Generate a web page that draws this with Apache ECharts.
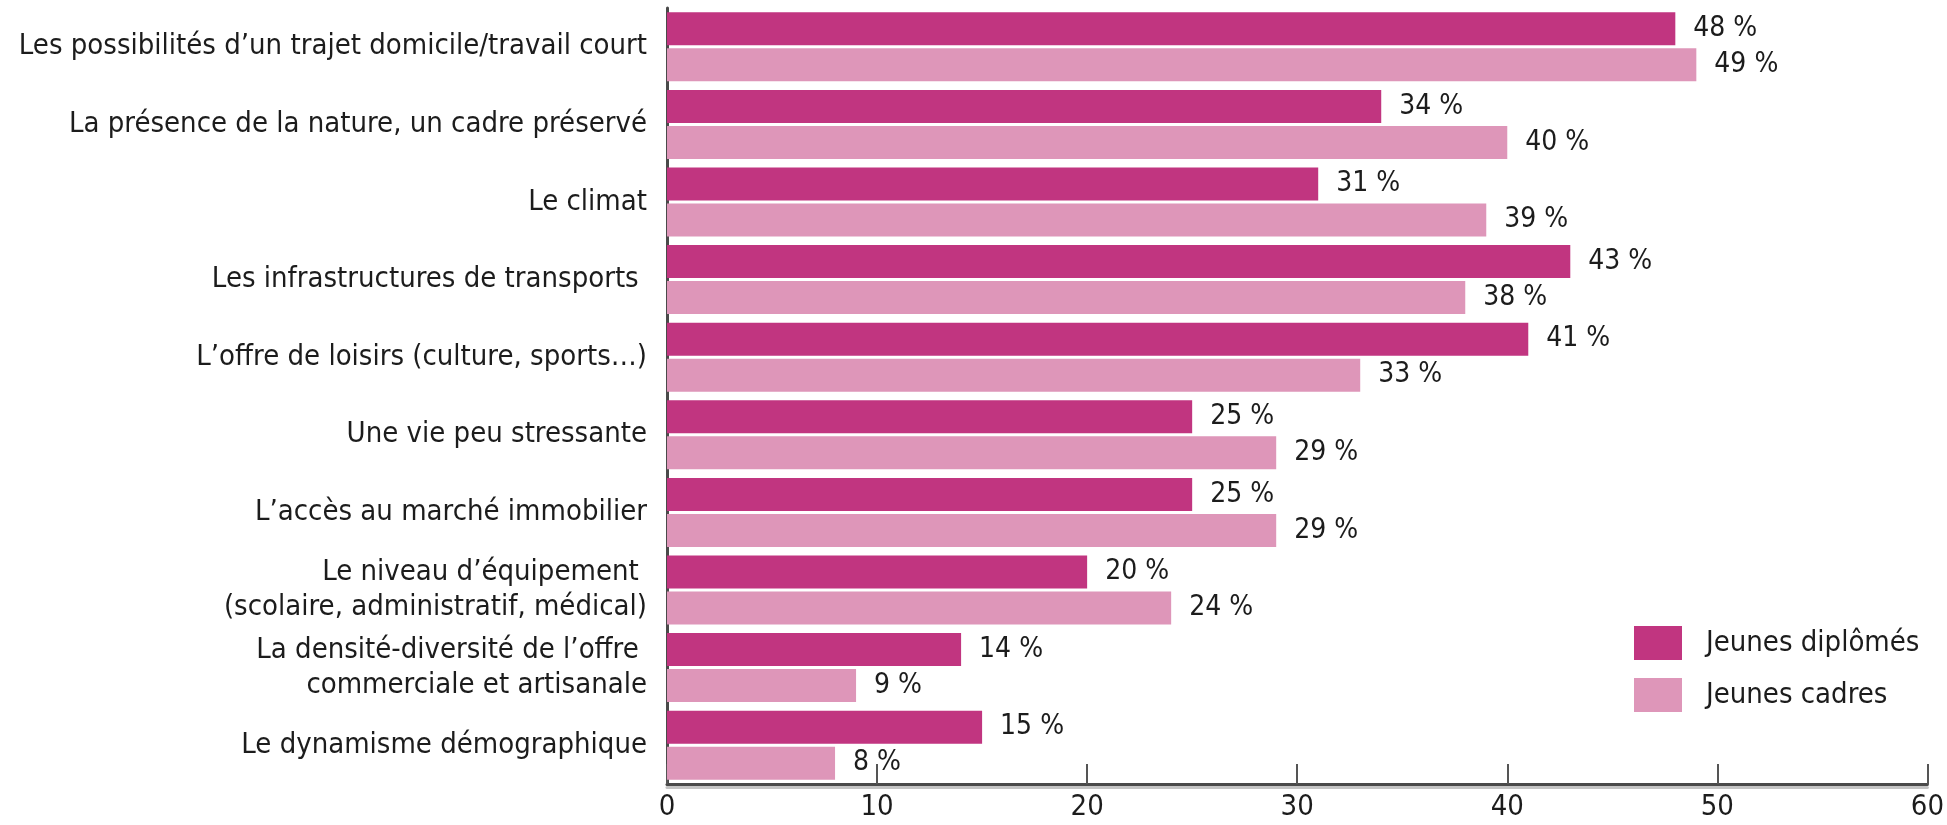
<!DOCTYPE html>
<html>
<head>
<meta charset="utf-8">
<script src="https://cdn.jsdelivr.net/npm/echarts@6/dist/echarts.min.js"></script>
<style>
html,body{margin:0;padding:0;background:#fff;}
#chart{width:1947px;height:825px;}
</style>
</head>
<body>
<div id="chart"></div>
<script>
const categories = [
  "Les possibilités d’un trajet domicile/travail court",
  "La présence de la nature, un cadre préservé",
  "Le climat",
  "Les infrastructures de transports ",
  "L’offre de loisirs (culture, sports…)",
  "Une vie peu stressante",
  "L’accès au marché immobilier",
  "Le niveau d’équipement \n(scolaire, administratif, médical)",
  "La densité-diversité de l’offre \ncommerciale et artisanale",
  "Le dynamisme démographique"
];
const seriesNames = ["Jeunes diplômés", "Jeunes cadres"];
const jeunesDiplomes = [48, 34, 31, 43, 41, 25, 25, 20, 14, 15];
const jeunesCadres = [49, 40, 39, 38, 33, 29, 29, 24, 9, 8];
const xTicks = [0, 10, 20, 30, 40, 50, 60];

const FONT = "'Liberation Sans Narrow', 'DejaVu Sans Condensed', 'Liberation Sans', sans-serif";
const TXT = '#1c1c1c';

const chart = echarts.init(document.getElementById('chart'), null, {renderer: 'canvas'});
const labelCfg = {
  show: true,
  position: 'right',
  distance: 18,
  formatter: '{c} %',
  fontFamily: FONT,
  fontSize: 28,
  color: TXT
};
chart.setOption({
  animation: false,
  backgroundColor: '#fff',
  grid: {left: 667, right: 17, top: 8, bottom: 41, containLabel: false},
  legend: {
    orient: 'vertical',
    left: 1634,
    top: 626,
    padding: 0,
    itemWidth: 48,
    itemHeight: 34,
    itemGap: 18,
    icon: 'rect',
    data: seriesNames,
    textStyle: {fontFamily: FONT, fontSize: 29, color: TXT, padding: [0, 0, 0, 19]}
  },
  xAxis: {
    type: 'value',
    min: xTicks[0],
    max: xTicks[xTicks.length - 1],
    interval: 10,
    axisLine: {show: true, lineStyle: {color: '#4a4a4a', width: 3, shadowColor: '#c4c4c4', shadowOffsetY: 3}},
    axisTick: {show: true, inside: true, length: 20, lineStyle: {color: '#555', width: 2}},
    splitLine: {show: false},
    axisLabel: {fontFamily: FONT, fontSize: 29, color: TXT, margin: 9,
      formatter: v => xTicks.includes(v) ? String(v) : ''}
  },
  yAxis: {
    type: 'category',
    inverse: true,
    data: categories,
    axisLine: {show: true, lineStyle: {color: '#4a4a4a', width: 3}},
    axisTick: {show: false},
    axisLabel: {fontFamily: FONT, fontSize: 29, color: TXT, margin: 20, lineHeight: 35, align: 'right'}
  },
  series: [
    {name: seriesNames[0], type: 'bar', data: jeunesDiplomes, barWidth: 33, barGap: '9%',
     itemStyle: {color: '#C13580'}, label: labelCfg},
    {name: seriesNames[1], type: 'bar', data: jeunesCadres, barWidth: 33, barGap: '9%',
     itemStyle: {color: '#DE96B9'}, label: labelCfg}
  ]
});
</script>
</body>
</html>
